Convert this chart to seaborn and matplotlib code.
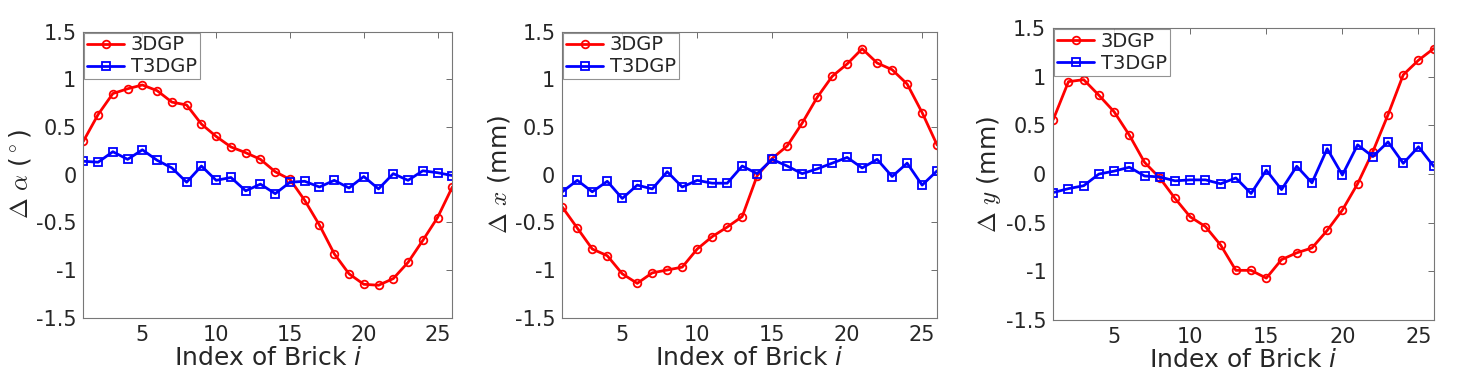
import numpy as np
import pandas as pd
import matplotlib
matplotlib.use("Agg")
import matplotlib.pyplot as plt
import seaborn as sns

# brick index
brick = list(range(1, 27))

# panel 1: delta alpha (deg)
alpha_3dgp = [0.35, 0.63, 0.85, 0.90, 0.94, 0.88, 0.76, 0.73, 0.53, 0.40, 0.29, 0.23, 0.16,
              0.03, -0.05, -0.27, -0.53, -0.83, -1.04, -1.15, -1.16, -1.09, -0.92, -0.69, -0.45, -0.13]
alpha_t3dgp = [0.14, 0.13, 0.24, 0.16, 0.26, 0.15, 0.07, -0.08, 0.09, -0.06, -0.03, -0.17, -0.10,
               -0.20, -0.08, -0.07, -0.13, -0.06, -0.14, -0.02, -0.15, 0.01, -0.06, 0.04, 0.02, -0.01]

# panel 2: delta x (mm)
x_3dgp = [-0.34, -0.56, -0.78, -0.85, -1.04, -1.14, -1.03, -1.00, -0.97, -0.78, -0.65, -0.55, -0.44,
          -0.01, 0.17, 0.30, 0.54, 0.81, 1.03, 1.16, 1.32, 1.17, 1.10, 0.95, 0.65, 0.31]
x_t3dgp = [-0.18, -0.06, -0.18, -0.07, -0.25, -0.11, -0.15, 0.03, -0.13, -0.06, -0.09, -0.09, 0.09,
           0.01, 0.16, 0.09, 0.01, 0.06, 0.12, 0.18, 0.07, 0.16, -0.02, 0.12, -0.11, 0.04]

# panel 3: delta y (mm)
y_3dgp = [0.56, 0.95, 0.97, 0.81, 0.64, 0.40, 0.12, -0.04, -0.25, -0.44, -0.54, -0.73, -0.99,
          -0.99, -1.07, -0.88, -0.81, -0.76, -0.58, -0.37, -0.10, 0.23, 0.61, 1.02, 1.17, 1.29]
y_t3dgp = [-0.19, -0.15, -0.12, 0.00, 0.03, 0.07, -0.02, -0.03, -0.07, -0.06, -0.06, -0.10, -0.04,
           -0.20, 0.04, -0.16, 0.08, -0.09, 0.26, -0.01, 0.30, 0.18, 0.33, 0.11, 0.28, 0.08]

yticks = [-1.5, -1, -0.5, 0, 0.5, 1, 1.5]
ytick_labels = ["-1.5", "-1", "-0.5", "0", "0.5", "1", "1.5"]
xticks = [5, 10, 15, 20, 25]

sns.set_style("white")
plt.rcParams["font.family"] = ["DejaVu Sans"]
plt.rcParams["text.color"] = "#262626"

fig = plt.figure(figsize=(14.7, 3.8), dpi=100)
positions = [
    [0.0567, 0.164, 0.251, 0.753],
    [0.3825, 0.164, 0.255, 0.753],
    [0.7165, 0.158, 0.2588, 0.768],
]
panels = [
    (alpha_3dgp, alpha_t3dgp, r"$\Delta$ $\alpha$ ($^\circ$)"),
    (x_3dgp, x_t3dgp, r"$\Delta$ $x$ (mm)"),
    (y_3dgp, y_t3dgp, r"$\Delta$ $y$ (mm)"),
]

for pos, (red, blue, ylab) in zip(positions, panels):
    ax = fig.add_axes(pos)
    sns.lineplot(x=brick, y=red, ax=ax, color="red", lw=2.0, marker="o", ms=5.5,
                 mfc="none", mec="red", mew=1.3, label="3DGP")
    sns.lineplot(x=brick, y=blue, ax=ax, color="blue", lw=2.0, marker="s", ms=5.5,
                 mfc="none", mec="blue", mew=1.3, label="T3DGP")
    ax.set_xlim(1, 26)
    ax.set_ylim(-1.5, 1.5)
    ax.set_xticks(xticks)
    ax.set_yticks(yticks)
    ax.set_yticklabels(ytick_labels)
    ax.tick_params(direction="in", length=4, width=0.6, top=True, right=True,
                   labelsize=15, colors="#555555", labelcolor="#262626", pad=5)
    for sp in ax.spines.values():
        sp.set_color("#777777")
        sp.set_linewidth(0.8)
    ax.set_xlabel("Index of Brick $i$", fontsize=18, labelpad=1)
    ax.set_ylabel(ylab, fontsize=18, labelpad=2, math_fontfamily="cm")
    leg = ax.legend(loc="upper left", fontsize=14, frameon=True, fancybox=False,
                    borderaxespad=0.05, handlelength=1.9, borderpad=0.15,
                    labelspacing=0.15, handletextpad=0.35)
    leg.get_frame().set_edgecolor("#777777")
    leg.get_frame().set_linewidth(0.8)

fig.savefig("out.png", dpi=100)
